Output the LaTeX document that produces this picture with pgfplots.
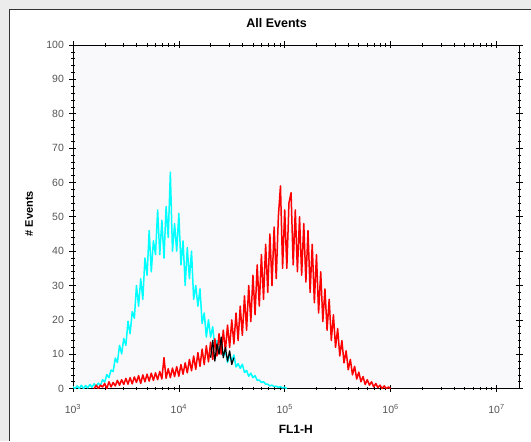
\documentclass[border=0pt]{standalone}
\usepackage{pgfplots}
\pgfplotsset{compat=1.18}
\usepackage{pgfplotstable}
\usepackage{fontspec}
\setmainfont{Liberation Sans}

\definecolor{framebg}{RGB}{236,236,236}
\definecolor{plotbg}{RGB}{249,249,252}
\definecolor{ticktext}{RGB}{85,85,85}
\definecolor{fcyan}{RGB}{0,255,255}
\definecolor{fred}{RGB}{255,0,0}

% e = log10(FL1-H), y = events per channel
\pgfplotstableread{
e y
3.00 0.6
3.02 0
3.04 0.8
3.06 0
3.08 1
3.10 0
3.12 0.9
3.14 0.2
3.16 1.2
3.18 0.4
3.20 1.4
3.22 0.6
3.24 1.6
3.26 0.9
3.28 2.6
3.30 1.9
3.32 4.1
3.34 3.2
3.36 5.4
3.38 5.0
3.40 8.9
3.42 7.6
3.44 12.6
3.46 10.1
3.48 14.6
3.50 12.6
3.52 19.6
3.54 16
3.56 22.4
3.58 20.5
3.60 30
3.62 24
3.64 32
3.66 26
3.68 38
3.70 33
3.72 46
3.74 34
3.76 43
3.78 39
3.80 52
3.82 39
3.84 49
3.86 38
3.88 53
3.90 44
3.92 63
3.94 40
3.96 48
3.98 40
4.00 51
4.02 36
4.04 43
4.06 30
4.08 41
4.10 32
4.12 40
4.14 26
4.16 30
4.18 24
4.20 29
4.22 19
4.24 22
4.26 15
4.28 20
4.30 15
4.32 18
4.34 12
4.36 14
4.38 11
4.40 13.5
4.42 9.5
4.44 10.8
4.46 7.6
4.48 10
4.50 7.8
4.52 9.8
4.54 6.3
4.56 7.3
4.58 5.9
4.60 7.1
4.62 4.7
4.64 5.3
4.66 3.6
4.68 4.5
4.70 3.2
4.72 3.8
4.74 2.4
4.76 2.5
4.78 1.8
4.80 2.0
4.82 1.3
4.84 1.3
4.86 0.8
4.88 1.0
4.90 0.6
4.92 0.7
4.94 0.4
4.96 0.6
4.98 0.2
5.00 0.4
5.02 0
}\cyandata

\pgfplotstableread{
e y
3.20 0
3.22 1
3.24 0
3.26 1
3.28 0.5
3.30 1.5
3.32 0
3.34 2
3.36 0.5
3.38 1.8
3.40 0.8
3.42 2.4
3.44 1
3.46 2.6
3.48 1.2
3.50 3
3.52 1.3
3.54 3.2
3.56 1.4
3.58 3.4
3.60 1.8
3.62 3.8
3.64 1.5
3.66 4
3.68 2
3.70 4.2
3.72 2.2
3.74 4.5
3.76 2.4
3.78 4.6
3.80 2.6
3.82 5
3.84 2.8
3.86 9
3.88 3.0
3.90 5.8
3.92 3.2
3.94 6
3.96 3.5
3.98 6.4
4.00 3.6
4.02 7
4.04 4.2
4.06 7.5
4.08 4.6
4.10 8.5
4.12 5.2
4.14 9.5
4.16 5.6
4.18 10.5
4.20 6.5
4.22 11.5
4.24 7
4.26 12.5
4.28 7.8
4.30 13.5
4.32 8.5
4.34 14.5
4.36 9.5
4.38 16
4.40 10
4.42 17
4.44 11
4.46 18.5
4.48 12
4.50 20
4.52 13
4.54 22
4.56 14
4.58 24
4.60 15.5
4.62 27
4.64 17
4.66 30
4.68 19.5
4.70 33
4.72 21.5
4.74 36
4.76 24
4.78 39
4.80 26
4.82 42
4.84 28
4.86 45
4.88 30
4.90 47
4.92 32
4.94 50
4.96 59
4.98 35
5.00 52
5.02 35
5.04 54
5.06 57
5.08 36
5.10 52
5.12 34
5.14 50
5.16 33
5.18 48
5.20 31
5.22 46
5.24 28
5.26 42
5.28 25
5.30 39
5.32 22
5.34 34
5.36 19.5
5.38 29
5.40 17
5.42 26
5.44 14
5.46 21.5
5.48 12
5.50 17.5
5.52 9.5
5.54 14
5.56 7.5
5.58 11
5.60 5.5
5.62 8.5
5.64 4
5.66 6.5
5.68 2.8
5.70 4.8
5.72 2
5.74 3.5
5.76 1.2
5.78 2.6
5.80 1
5.82 2
5.84 0.5
5.86 1.5
5.88 0.3
5.90 1
5.92 0
5.94 0.8
5.96 0
5.98 0.5
6.00 0
}\reddata

% overlap of both populations, drawn black
\pgfplotstableread{
e y
4.30 9
4.32 14
4.34 8
4.36 13
4.38 10
4.40 15
4.42 9
4.44 12
4.46 8
4.48 11
4.50 7
4.52 9
}\overlapdata

\begin{document}
\begin{tikzpicture}
\fill[framebg] (0pt,0pt) rectangle (531pt,441pt);
\fill[white] (10pt,0pt) rectangle (531pt,431pt);
\draw[black!80, line width=1pt] (10pt,0pt) -- (10pt,431pt) -- (531pt,431pt);
\useasboundingbox (0pt,0pt) rectangle (531pt,441pt);

\begin{axis}[
  at={(73pt,52pt)}, anchor=south west,
  scale only axis,
  width=447pt, height=344pt,
  xmode=log,
  xmin=1e3, xmax=1.65e7,
  ymin=0, ymax=100,
  axis background/.style={fill=plotbg},
  xtick={1e3,1e4,1e5,1e6,1e7},
  xticklabels={10\textsuperscript{3},10\textsuperscript{4},10\textsuperscript{5},10\textsuperscript{6},10\textsuperscript{7}},
  minor xtick={2e3,3e3,4e3,5e3,6e3,7e3,8e3,9e3,
               2e4,3e4,4e4,5e4,6e4,7e4,8e4,9e4,
               2e5,3e5,4e5,5e5,6e5,7e5,8e5,9e5,
               2e6,3e6,4e6,5e6,6e6,7e6,8e6,9e6},
  ytick={0,10,...,100},
  minor y tick num=4,
  tick align=center,
  major tick length=7pt,
  minor tick length=3.5pt,
  every tick/.style={black, line width=0.6pt},
  /pgf/number format/assume math mode=true,
  tick label style={font=\fontsize{10.5}{12}\selectfont, text=ticktext},
  yticklabel style={xshift=-2pt},
  xticklabel style={font=\fontsize{10.5}{12}\selectfont, yshift=-9pt},
  title={All Events},
  title style={font=\bfseries\fontsize{12.5}{14}\selectfont, at={(0.456,1.045)}, anchor=center},
  xlabel={FL1-H},
  xlabel style={font=\bfseries\fontsize{12}{14}\selectfont, at={(0.499,-0.119)}, anchor=center},
  ylabel={\# Events},
  ylabel style={font=\bfseries\fontsize{11}{13}\selectfont, at={(-0.098,0.509)}, anchor=center},
  axis line style={black, line width=0.8pt},
]
\addplot[fcyan, line width=1.5pt, line join=round] table[x expr=10^\thisrow{e}, y=y] {\cyandata};
\addplot[fred, line width=1.5pt, line join=round] table[x expr=10^\thisrow{e}, y=y] {\reddata};
\addplot[black, line width=1.2pt, line join=round] table[x expr=10^\thisrow{e}, y=y] {\overlapdata};
\end{axis}
\end{tikzpicture}
\end{document}
